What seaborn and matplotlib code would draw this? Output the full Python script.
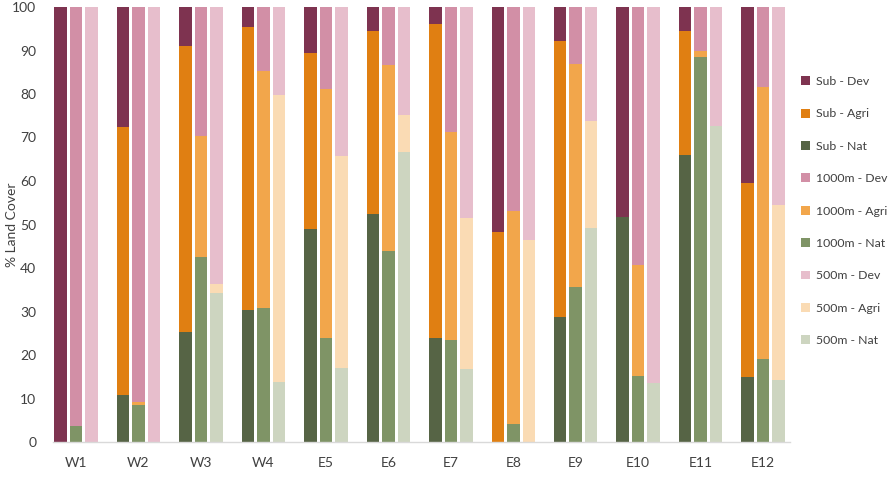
import matplotlib
matplotlib.use("Agg")
import matplotlib.pyplot as plt
from matplotlib.patches import Patch
import seaborn as sns
import pandas as pd

sites = ["W1", "W2", "W3", "W4", "E5", "E6", "E7", "E8", "E9", "E10", "E11", "E12"]
rings = ["Sub", "1000m", "500m"]

sub_nat = [0, 10.8, 25.3, 30.4, 48.9, 52.5, 24.0, 0, 28.8, 51.8, 65.9, 15.0]
sub_agri = [0, 61.6, 65.7, 64.9, 40.5, 42.0, 72.2, 48.3, 63.4, 0, 28.6, 44.5]
sub_dev = [100, 27.6, 9.0, 4.7, 10.6, 5.5, 3.8, 51.7, 7.8, 48.2, 5.5, 40.5]

m1000_nat = [3.6, 8.6, 42.5, 30.7, 23.8, 43.8, 23.5, 4.1, 35.7, 15.1, 88.4, 19.0]
m1000_agri = [0, 0.6, 27.9, 54.5, 57.4, 42.9, 47.7, 48.9, 51.3, 25.6, 1.5, 62.5]
m1000_dev = [96.4, 90.8, 29.6, 14.8, 18.8, 13.3, 28.8, 47.0, 13.0, 59.3, 10.1, 18.5]

m500_nat = [0, 0, 34.2, 13.9, 17.1, 66.6, 16.7, 0, 49.3, 13.5, 72.6, 14.3]
m500_agri = [0, 0, 2.2, 65.8, 48.6, 8.5, 34.9, 46.4, 24.4, 0, 0, 40.1]
m500_dev = [100, 100, 63.6, 20.3, 34.3, 24.9, 48.4, 53.6, 26.3, 86.5, 27.4, 45.6]

dev_colors = {"Sub": "#7E3350", "1000m": "#D28FA6", "500m": "#E7BECC"}
agri_colors = {"Sub": "#E07F12", "1000m": "#F2A64B", "500m": "#FADBB4"}
nat_colors = {"Sub": "#566445", "1000m": "#7F9466", "500m": "#CDD5C0"}

rows = []
for ring, nat, agri, dev in [("Sub", sub_nat, sub_agri, sub_dev),
                             ("1000m", m1000_nat, m1000_agri, m1000_dev),
                             ("500m", m500_nat, m500_agri, m500_dev)]:
    for s, n, a, d in zip(sites, nat, agri, dev):
        rows.append({"site": s, "ring": ring, "nat": n, "agri": a, "dev": d})
df = pd.DataFrame(rows)
df["top_agri"] = df["nat"] + df["agri"]
df["top_dev"] = df["top_agri"] + df["dev"]

sns.set_style("white")
plt.rcParams["font.family"] = ["Lato", "DejaVu Sans"]

fig = plt.figure(figsize=(8.91, 4.90), dpi=100)
ax = fig.add_axes([53 / 891, 1 - 442 / 490, (790 - 53) / 891, (442 - 7) / 490])

common = dict(data=df, x="site", hue="ring", order=sites, hue_order=rings,
              width=0.744, gap=0.194, saturation=1, linewidth=0,
              edgecolor="none", legend=False, ax=ax, errorbar=None)
sns.barplot(y="top_dev", palette=dev_colors, **common)
sns.barplot(y="top_agri", palette=agri_colors, **common)
sns.barplot(y="nat", palette=nat_colors, **common)

ax.set_xlim(-0.368, 11.43)
ax.set_ylim(0, 100)
ax.set_yticks(range(0, 101, 10))
ax.set_xlabel("")
ax.set_ylabel("% Land Cover", fontsize=10, color="#404040", ha="center", va="center")
ax.yaxis.set_label_coords((12 - 53) / 737, 0.5)
ax.tick_params(axis="y", length=0, labelsize=10, labelcolor="#404040", pad=12)
ax.tick_params(axis="x", length=0, labelsize=10, labelcolor="#404040", pad=11)
for sp in ["left", "top", "right"]:
    ax.spines[sp].set_visible(False)
ax.spines["bottom"].set_color("#D9D9D9")
ax.spines["bottom"].set_linewidth(1)

handles = []
labels = []
for ring in rings:
    for name, cmap in [("Dev", dev_colors), ("Agri", agri_colors), ("Nat", nat_colors)]:
        handles.append(Patch(facecolor=cmap[ring], edgecolor="none"))
        labels.append(f"{ring} - {name}")
fig.legend(handles, labels, loc="center left", bbox_to_anchor=(801 / 891, 1 - 211 / 490),
           frameon=False, fontsize=8.8, labelspacing=1.75, handlelength=0.75,
           handleheight=0.75, handletextpad=0.45, borderpad=0, borderaxespad=0,
           labelcolor="#404040")

fig.savefig("out.png", dpi=100)
